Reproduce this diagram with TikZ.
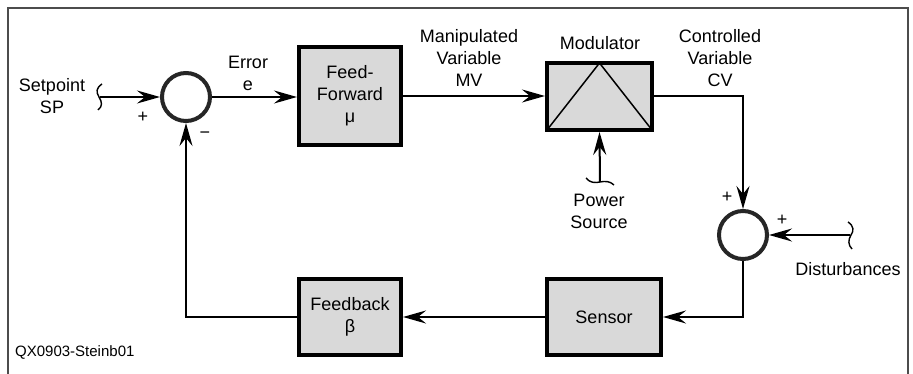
\documentclass[tikz,border=0pt]{standalone}
\usepackage{fontspec}
\setmainfont{Liberation Sans}
\usetikzlibrary{arrows.meta,calc}
\begin{document}
\begin{tikzpicture}[x=1pt,y=-1pt,
  txt/.style={font=\fontsize{18}{22}\selectfont, align=center, inner sep=0pt},
  smalltxt/.style={font=\fontsize{15}{18}\selectfont, inner sep=0pt},
  blk/.style={draw=black, line width=4pt, fill=black!15, inner sep=0pt,
    font=\fontsize{18}{22}\selectfont, align=center},
  sumc/.style={circle, draw=black!85, line width=4pt, fill=white, minimum size=48pt, inner sep=0pt},
  conn/.style={line width=2pt, draw=black},
  arr/.style={conn, -{Stealth[length=23pt,width=13pt,inset=8pt]}},
  brk/.style={line width=1.4pt, draw=black}]
\useasboundingbox (0,0) rectangle (913,374);
% frame
\draw[line width=2pt, draw=black!70] (8,380) -- (8,8) -- (908,8) -- (908,380);

% blocks
\node[blk, minimum width=102pt, minimum height=98pt] (ff) at (350,96) {Feed-\\Forward\\μ};
\node[blk, minimum width=105pt, minimum height=67pt] (mod) at (599.5,96.5) {};
\draw[line width=1.5pt] ([shift={(2pt,2pt)}]mod.south west) -- ([shift={(0pt,-2pt)}]mod.north) -- ([shift={(-2pt,2pt)}]mod.south east);
\node[blk, minimum width=102pt, minimum height=76pt] (fb) at (350,317) {Feedback\\β};
\node[blk, minimum width=114pt, minimum height=76pt] (sensor) at (604,317) {Sensor};

% summing junctions
\node[sumc] (sum1) at (186,97) {};
\node[sumc] (sum2) at (743,235) {};

% labels
\node[txt] (lsp) at (52,96) {Setpoint\\SP};
\node[txt] (lerr) at (248,73) {Error\\e};
\node[txt] (lmv) at (469,58) {Manipulated\\Variable\\MV};
\node[txt] (lmod) at (600,43) {Modulator};
\node[txt] (lcv) at (720,58) {Controlled\\Variable\\CV};
\node[txt] (lpw) at (599,211) {Power\\Source};
\node[txt] (ldist) at (848,269) {Disturbances};
\node[smalltxt, anchor=west] (lqx) at (15,352) {QX0903-Steinb01};
\node[txt] (p1) at (143,117) {+};
\node[txt] (m1) at (205,135) {\textminus};
\node[txt] (p2) at (727,197) {+};
\node[txt] (p3) at (782,220) {+};

% free ends
\coordinate (spin) at (100,97);
\coordinate (pwin) at (600,182);
\coordinate (dsin) at (850,235);

% break marks
\draw[brk] (102,84) .. controls (96,88) and (96,92) .. (99,97) .. controls (102,102) and (103,106) .. (98,110);
\draw[brk] (586,178) .. controls (590,183) and (595,183) .. (600,182) .. controls (605,181) and (610,181) .. (614,185);
\draw[brk] (848,222) .. controls (854,226) and (854,231) .. (851,235) .. controls (848,240) and (848,245) .. (852,249);

% connectors
\draw[arr] (spin) -- (sum1.west);
\draw[arr] (sum1.east) -- (sum1.east -| ff.west);
\draw[arr] (ff.east) -- (ff.east -| mod.west);
\draw[arr] (mod.east) -| (sum2.north);
\draw[arr] (pwin) -- (mod.south);
\draw[arr] (dsin) -- (sum2.east);
\draw[arr] (sum2.south) |- (sensor.east);
\draw[arr] (sensor.west) -- (fb.east);
\draw[arr] (fb.west) -| (sum1.south);
\end{tikzpicture}
\end{document}
